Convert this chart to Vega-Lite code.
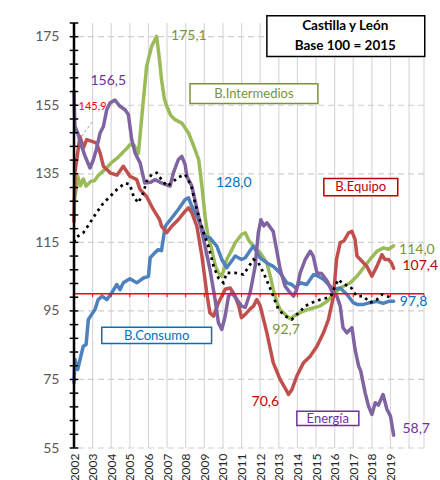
{
  "$schema": "https://vega.github.io/schema/vega-lite/v6.json",
  "width": 350,
  "height": 425,
  "autosize": "none",
  "padding": {"left": 74, "top": 23, "right": 16, "bottom": 32},
  "background": "white",
  "config": {"view": {"stroke": null}, "font": "Lato"},
  "datasets": {
    "series": [
      {"serie":"Intermedios","year":2002.0,"v":127},{"serie":"Intermedios","year":2002.1,"v":130},{"serie":"Intermedios","year":2002.2,"v":134.3},{"serie":"Intermedios","year":2002.35,"v":131.5},{"serie":"Intermedios","year":2002.5,"v":133.5},{"serie":"Intermedios","year":2002.65,"v":131.4},{"serie":"Intermedios","year":2002.9,"v":132.8},{"serie":"Intermedios","year":2003.1,"v":133},{"serie":"Intermedios","year":2003.3,"v":134.5},{"serie":"Intermedios","year":2003.5,"v":135.5},{"serie":"Intermedios","year":2003.8,"v":137},{"serie":"Intermedios","year":2004.0,"v":138.2},{"serie":"Intermedios","year":2004.3,"v":139.5},{"serie":"Intermedios","year":2004.6,"v":141.1},{"serie":"Intermedios","year":2004.85,"v":142.5},{"serie":"Intermedios","year":2005.0,"v":143.5},{"serie":"Intermedios","year":2005.2,"v":143.5},{"serie":"Intermedios","year":2005.46,"v":141},{"serie":"Intermedios","year":2005.7,"v":155},{"serie":"Intermedios","year":2005.9,"v":166.3},{"serie":"Intermedios","year":2006.17,"v":172.2},{"serie":"Intermedios","year":2006.44,"v":175.1},{"serie":"Intermedios","year":2006.6,"v":168},{"serie":"Intermedios","year":2006.7,"v":162.5},{"serie":"Intermedios","year":2006.85,"v":157},{"serie":"Intermedios","year":2006.98,"v":154.7},{"serie":"Intermedios","year":2007.2,"v":152},{"serie":"Intermedios","year":2007.43,"v":150.8},{"serie":"Intermedios","year":2007.79,"v":149.8},{"serie":"Intermedios","year":2008.15,"v":146.9},{"serie":"Intermedios","year":2008.4,"v":143.5},{"serie":"Intermedios","year":2008.7,"v":139.1},{"serie":"Intermedios","year":2008.87,"v":131.4},{"serie":"Intermedios","year":2009.04,"v":122.6},{"serie":"Intermedios","year":2009.2,"v":116.8},{"serie":"Intermedios","year":2009.4,"v":112.9},{"serie":"Intermedios","year":2009.6,"v":108},{"serie":"Intermedios","year":2009.76,"v":106.1},{"serie":"Intermedios","year":2009.94,"v":105.1},{"serie":"Intermedios","year":2010.2,"v":110},{"serie":"Intermedios","year":2010.45,"v":112.5},{"serie":"Intermedios","year":2010.66,"v":114.9},{"serie":"Intermedios","year":2011.0,"v":117.3},{"serie":"Intermedios","year":2011.2,"v":117.8},{"serie":"Intermedios","year":2011.4,"v":115.5},{"serie":"Intermedios","year":2011.64,"v":113.9},{"serie":"Intermedios","year":2012.0,"v":112},{"serie":"Intermedios","year":2012.36,"v":109},{"serie":"Intermedios","year":2012.55,"v":105},{"serie":"Intermedios","year":2012.7,"v":101.2},{"serie":"Intermedios","year":2012.9,"v":97.5},{"serie":"Intermedios","year":2013.07,"v":95.4},{"serie":"Intermedios","year":2013.43,"v":93.5},{"serie":"Intermedios","year":2013.6,"v":92.7},{"serie":"Intermedios","year":2013.97,"v":94},{"serie":"Intermedios","year":2014.3,"v":94.9},{"serie":"Intermedios","year":2014.6,"v":95.5},{"serie":"Intermedios","year":2014.87,"v":95.9},{"serie":"Intermedios","year":2015.2,"v":96.4},{"serie":"Intermedios","year":2015.6,"v":97.8},{"serie":"Intermedios","year":2015.94,"v":99.8},{"serie":"Intermedios","year":2016.3,"v":101.7},{"serie":"Intermedios","year":2016.84,"v":103.2},{"serie":"Intermedios","year":2017.2,"v":105.1},{"serie":"Intermedios","year":2017.55,"v":107.6},{"serie":"Intermedios","year":2017.9,"v":110},{"serie":"Intermedios","year":2018.27,"v":112.4},{"serie":"Intermedios","year":2018.63,"v":113.4},{"serie":"Intermedios","year":2018.9,"v":113.0},{"serie":"Intermedios","year":2019.17,"v":114.0},
      {"serie":"Consumo","year":2002.0,"v":74},{"serie":"Consumo","year":2002.05,"v":80.8},{"serie":"Consumo","year":2002.2,"v":77.9},{"serie":"Consumo","year":2002.35,"v":81.4},{"serie":"Consumo","year":2002.5,"v":84.7},{"serie":"Consumo","year":2002.65,"v":85.2},{"serie":"Consumo","year":2002.77,"v":92.5},{"serie":"Consumo","year":2002.95,"v":94},{"serie":"Consumo","year":2003.13,"v":95.4},{"serie":"Consumo","year":2003.3,"v":98.3},{"serie":"Consumo","year":2003.5,"v":99.3},{"serie":"Consumo","year":2003.76,"v":98.3},{"serie":"Consumo","year":2004.03,"v":100.3},{"serie":"Consumo","year":2004.3,"v":102.7},{"serie":"Consumo","year":2004.47,"v":101.2},{"serie":"Consumo","year":2004.65,"v":103.2},{"serie":"Consumo","year":2005.0,"v":104.4},{"serie":"Consumo","year":2005.37,"v":103.2},{"serie":"Consumo","year":2005.73,"v":104.6},{"serie":"Consumo","year":2006.0,"v":105.1},{"serie":"Consumo","year":2006.09,"v":110.5},{"serie":"Consumo","year":2006.35,"v":112},{"serie":"Consumo","year":2006.53,"v":112.9},{"serie":"Consumo","year":2006.7,"v":112.6},{"serie":"Consumo","year":2006.9,"v":119.7},{"serie":"Consumo","year":2007.25,"v":122.1},{"serie":"Consumo","year":2007.6,"v":124.6},{"serie":"Consumo","year":2007.97,"v":127.5},{"serie":"Consumo","year":2008.15,"v":128.0},{"serie":"Consumo","year":2008.33,"v":125.5},{"serie":"Consumo","year":2008.69,"v":121.6},{"serie":"Consumo","year":2009.04,"v":116.8},{"serie":"Consumo","year":2009.3,"v":116.3},{"serie":"Consumo","year":2009.67,"v":113.9},{"serie":"Consumo","year":2009.94,"v":110},{"serie":"Consumo","year":2010.2,"v":107.6},{"serie":"Consumo","year":2010.39,"v":109},{"serie":"Consumo","year":2010.66,"v":111},{"serie":"Consumo","year":2011.0,"v":110},{"serie":"Consumo","year":2011.2,"v":110.5},{"serie":"Consumo","year":2011.5,"v":112.9},{"serie":"Consumo","year":2011.64,"v":113.9},{"serie":"Consumo","year":2012.0,"v":110.5},{"serie":"Consumo","year":2012.36,"v":109},{"serie":"Consumo","year":2012.7,"v":108},{"serie":"Consumo","year":2013.07,"v":106.1},{"serie":"Consumo","year":2013.43,"v":103.2},{"serie":"Consumo","year":2013.7,"v":102.7},{"serie":"Consumo","year":2013.9,"v":101.7},{"serie":"Consumo","year":2014.15,"v":103.2},{"serie":"Consumo","year":2014.5,"v":102.7},{"serie":"Consumo","year":2014.87,"v":105.6},{"serie":"Consumo","year":2015.1,"v":105.2},{"serie":"Consumo","year":2015.4,"v":104.2},{"serie":"Consumo","year":2015.67,"v":102.7},{"serie":"Consumo","year":2015.94,"v":101.2},{"serie":"Consumo","year":2016.3,"v":101.7},{"serie":"Consumo","year":2016.66,"v":99.8},{"serie":"Consumo","year":2017.0,"v":97.4},{"serie":"Consumo","year":2017.2,"v":96.9},{"serie":"Consumo","year":2017.55,"v":96.9},{"serie":"Consumo","year":2017.9,"v":97.4},{"serie":"Consumo","year":2018.27,"v":97.8},{"serie":"Consumo","year":2018.6,"v":97.2},{"serie":"Consumo","year":2018.9,"v":97.8},{"serie":"Consumo","year":2019.17,"v":97.8},
      {"serie":"Equipo","year":2002.0,"v":121},{"serie":"Equipo","year":2002.05,"v":135.3},{"serie":"Equipo","year":2002.32,"v":145.9},{"serie":"Equipo","year":2002.5,"v":142.5},{"serie":"Equipo","year":2002.68,"v":145},{"serie":"Equipo","year":2003.2,"v":144},{"serie":"Equipo","year":2003.4,"v":141.1},{"serie":"Equipo","year":2003.58,"v":137.2},{"serie":"Equipo","year":2003.94,"v":135.3},{"serie":"Equipo","year":2004.3,"v":134.6},{"serie":"Equipo","year":2004.65,"v":137.2},{"serie":"Equipo","year":2005.0,"v":134.3},{"serie":"Equipo","year":2005.37,"v":133.3},{"serie":"Equipo","year":2005.55,"v":130.4},{"serie":"Equipo","year":2005.9,"v":128.4},{"serie":"Equipo","year":2006.26,"v":124.6},{"serie":"Equipo","year":2006.6,"v":121.6},{"serie":"Equipo","year":2006.7,"v":119.7},{"serie":"Equipo","year":2006.98,"v":117.8},{"serie":"Equipo","year":2007.25,"v":119.7},{"serie":"Equipo","year":2007.6,"v":121.6},{"serie":"Equipo","year":2007.97,"v":124.1},{"serie":"Equipo","year":2008.15,"v":125.1},{"serie":"Equipo","year":2008.33,"v":123.6},{"serie":"Equipo","year":2008.6,"v":119.7},{"serie":"Equipo","year":2008.87,"v":111},{"serie":"Equipo","year":2009.13,"v":100.3},{"serie":"Equipo","year":2009.3,"v":94.4},{"serie":"Equipo","year":2009.5,"v":93.5},{"serie":"Equipo","year":2009.76,"v":97.4},{"serie":"Equipo","year":2010.12,"v":101.3},{"serie":"Equipo","year":2010.39,"v":101.7},{"serie":"Equipo","year":2010.66,"v":99.3},{"serie":"Equipo","year":2010.85,"v":96.4},{"serie":"Equipo","year":2011.0,"v":93},{"serie":"Equipo","year":2011.2,"v":94},{"serie":"Equipo","year":2011.45,"v":95.5},{"serie":"Equipo","year":2011.64,"v":96.4},{"serie":"Equipo","year":2011.82,"v":98.3},{"serie":"Equipo","year":2012.0,"v":96.5},{"serie":"Equipo","year":2012.36,"v":88.6},{"serie":"Equipo","year":2012.7,"v":79.9},{"serie":"Equipo","year":2013.07,"v":75},{"serie":"Equipo","year":2013.43,"v":71.6},{"serie":"Equipo","year":2013.52,"v":70.6},{"serie":"Equipo","year":2013.7,"v":72},{"serie":"Equipo","year":2013.97,"v":76},{"serie":"Equipo","year":2014.33,"v":79.9},{"serie":"Equipo","year":2014.69,"v":81.8},{"serie":"Equipo","year":2015.05,"v":84.7},{"serie":"Equipo","year":2015.4,"v":88.6},{"serie":"Equipo","year":2015.67,"v":92.5},{"serie":"Equipo","year":2015.94,"v":99.3},{"serie":"Equipo","year":2016.1,"v":110},{"serie":"Equipo","year":2016.3,"v":114.9},{"serie":"Equipo","year":2016.5,"v":115.4},{"serie":"Equipo","year":2016.75,"v":117.8},{"serie":"Equipo","year":2016.93,"v":118.2},{"serie":"Equipo","year":2017.1,"v":115.8},{"serie":"Equipo","year":2017.2,"v":111},{"serie":"Equipo","year":2017.38,"v":110},{"serie":"Equipo","year":2017.73,"v":108},{"serie":"Equipo","year":2018.0,"v":105.1},{"serie":"Equipo","year":2018.27,"v":108},{"serie":"Equipo","year":2018.54,"v":111.4},{"serie":"Equipo","year":2018.7,"v":110},{"serie":"Equipo","year":2018.9,"v":110},{"serie":"Equipo","year":2019.05,"v":109},{"serie":"Equipo","year":2019.17,"v":107.4},
      {"serie":"Energía","year":2002.0,"v":159},{"serie":"Energía","year":2002.05,"v":148.8},{"serie":"Energía","year":2002.2,"v":146.9},{"serie":"Energía","year":2002.41,"v":143},{"serie":"Energía","year":2002.6,"v":140.1},{"serie":"Energía","year":2002.86,"v":136.7},{"serie":"Energía","year":2003.04,"v":139.1},{"serie":"Energía","year":2003.2,"v":142.1},{"serie":"Energía","year":2003.4,"v":146.9},{"serie":"Energía","year":2003.58,"v":148.8},{"serie":"Energía","year":2003.76,"v":153.7},{"serie":"Energía","year":2003.94,"v":155.7},{"serie":"Energía","year":2004.2,"v":156.5},{"serie":"Energía","year":2004.47,"v":154.7},{"serie":"Energía","year":2004.74,"v":153.7},{"serie":"Energía","year":2004.92,"v":152.3},{"serie":"Energía","year":2005.1,"v":145},{"serie":"Energía","year":2005.28,"v":141.1},{"serie":"Energía","year":2005.55,"v":138.2},{"serie":"Energía","year":2005.8,"v":132.3},{"serie":"Energía","year":2006.1,"v":132.5},{"serie":"Energía","year":2006.35,"v":133.3},{"serie":"Energía","year":2006.6,"v":132.6},{"serie":"Energía","year":2006.9,"v":131.9},{"serie":"Energía","year":2007.16,"v":131.4},{"serie":"Energía","year":2007.34,"v":135.3},{"serie":"Energía","year":2007.6,"v":139.1},{"serie":"Energía","year":2007.79,"v":140.1},{"serie":"Energía","year":2007.97,"v":137.7},{"serie":"Energía","year":2008.06,"v":134.3},{"serie":"Energía","year":2008.33,"v":131.4},{"serie":"Energía","year":2008.69,"v":122.6},{"serie":"Energía","year":2009.04,"v":113.9},{"serie":"Energía","year":2009.3,"v":107.2},{"serie":"Energía","year":2009.58,"v":98.3},{"serie":"Energía","year":2009.76,"v":91.5},{"serie":"Energía","year":2009.94,"v":89.6},{"serie":"Energía","year":2010.12,"v":93.5},{"serie":"Energía","year":2010.3,"v":99.3},{"serie":"Energía","year":2010.48,"v":100.3},{"serie":"Energía","year":2010.75,"v":98.3},{"serie":"Energía","year":2011.0,"v":96.4},{"serie":"Energía","year":2011.2,"v":96},{"serie":"Energía","year":2011.46,"v":100.3},{"serie":"Energía","year":2011.73,"v":108},{"serie":"Energía","year":2011.9,"v":117.8},{"serie":"Energía","year":2012.04,"v":121.6},{"serie":"Energía","year":2012.2,"v":119.8},{"serie":"Energía","year":2012.36,"v":120.7},{"serie":"Energía","year":2012.7,"v":118.2},{"serie":"Energía","year":2012.88,"v":112.9},{"serie":"Energía","year":2013.07,"v":107.2},{"serie":"Energía","year":2013.34,"v":102.2},{"serie":"Energía","year":2013.55,"v":100.7},{"serie":"Energía","year":2013.79,"v":99.3},{"serie":"Energía","year":2013.95,"v":101},{"serie":"Energía","year":2014.15,"v":106.1},{"serie":"Energía","year":2014.42,"v":110},{"serie":"Energía","year":2014.69,"v":112.4},{"serie":"Energía","year":2014.85,"v":111},{"serie":"Energía","year":2015.05,"v":106.1},{"serie":"Energía","year":2015.3,"v":105.9},{"serie":"Energía","year":2015.6,"v":103.7},{"serie":"Energía","year":2015.85,"v":100.7},{"serie":"Energía","year":2016.12,"v":99.3},{"serie":"Energía","year":2016.3,"v":96.4},{"serie":"Energía","year":2016.45,"v":90.1},{"serie":"Energía","year":2016.66,"v":88.6},{"serie":"Energía","year":2016.93,"v":90.1},{"serie":"Energía","year":2017.1,"v":83.7},{"serie":"Energía","year":2017.29,"v":78.9},{"serie":"Energía","year":2017.4,"v":77.5},{"serie":"Energía","year":2017.64,"v":71.1},{"serie":"Energía","year":2017.82,"v":67.2},{"serie":"Energía","year":2018.0,"v":64.8},{"serie":"Energía","year":2018.18,"v":68.2},{"serie":"Energía","year":2018.35,"v":67.5},{"serie":"Energía","year":2018.6,"v":70.6},{"serie":"Energía","year":2018.81,"v":66.3},{"serie":"Energía","year":2019.0,"v":64.3},{"serie":"Energía","year":2019.17,"v":58.7}
    ],
    "general": [
      {"year":2002.0,"v":115},{"year":2002.1,"v":116.4},{"year":2002.5,"v":117.8},{"year":2002.86,"v":120.7},{"year":2003.2,"v":123.6},{"year":2003.58,"v":126.5},{"year":2003.94,"v":128.4},{"year":2004.3,"v":130.4},{"year":2004.74,"v":132.3},{"year":2005.0,"v":131.9},{"year":2005.2,"v":128.4},{"year":2005.45,"v":126.5},{"year":2005.72,"v":129.4},{"year":2005.9,"v":132.8},{"year":2006.17,"v":134.8},{"year":2006.44,"v":135.3},{"year":2006.7,"v":133.3},{"year":2007.0,"v":131.4},{"year":2007.35,"v":132.8},{"year":2007.6,"v":134},{"year":2007.97,"v":134.8},{"year":2008.15,"v":133},{"year":2008.33,"v":130.9},{"year":2008.5,"v":126.5},{"year":2008.7,"v":122.6},{"year":2008.96,"v":117.8},{"year":2009.22,"v":113.9},{"year":2009.5,"v":108},{"year":2009.76,"v":104.6},{"year":2010.03,"v":103.2},{"year":2010.2,"v":106.1},{"year":2010.66,"v":106.1},{"year":2011.1,"v":105.6},{"year":2011.3,"v":107.2},{"year":2011.64,"v":110},{"year":2011.9,"v":109},{"year":2012.18,"v":106.1},{"year":2012.45,"v":102.7},{"year":2012.7,"v":99.3},{"year":2012.98,"v":95.4},{"year":2013.34,"v":93.5},{"year":2013.7,"v":92.5},{"year":2014.06,"v":94.4},{"year":2014.42,"v":96.4},{"year":2014.78,"v":97.4},{"year":2015.23,"v":98.3},{"year":2015.6,"v":98.8},{"year":2015.85,"v":99.8},{"year":2015.94,"v":101.2},{"year":2016.2,"v":104.2},{"year":2016.48,"v":102.7},{"year":2016.84,"v":102.2},{"year":2017.0,"v":100.7},{"year":2017.2,"v":99.3},{"year":2017.55,"v":99.3},{"year":2017.9,"v":97.4},{"year":2018.27,"v":98.3},{"year":2018.54,"v":99.8},{"year":2018.81,"v":99.3},{"year":2019.1,"v":98.8}
    ],
    "years": [
      {"year":2002},{"year":2003},{"year":2004},{"year":2005},{"year":2006},{"year":2007},{"year":2008},{"year":2009},{"year":2010},{"year":2011},{"year":2012},{"year":2013},{"year":2014},{"year":2015},{"year":2016},{"year":2017},{"year":2018},{"year":2019},{"year":2020},{"year":2020.8}
    ],
    "ygrid": [{"v":55},{"v":75},{"v":95},{"v":115},{"v":135},{"v":155},{"v":175}],
    "yticks": [{"v":55},{"v":59},{"v":63},{"v":67},{"v":71},{"v":75},{"v":79},{"v":83},{"v":87},{"v":91},{"v":95},{"v":99},{"v":103},{"v":107},{"v":111},{"v":115},{"v":119},{"v":123},{"v":127},{"v":131},{"v":135},{"v":139},{"v":143},{"v":147},{"v":151},{"v":155},{"v":159},{"v":163},{"v":167},{"v":171},{"v":175},{"v":179}],
    "yaxisLine": [{"year":2002,"lo":55,"hi":179}],
    "leader": [{"x1":2002.41,"y1":145.9,"x2":2003.0,"y2":150.3}],
    "smallLabel": [{"year":2003.0,"v":154.5,"label":"145,9"}],
    "titleBox": [{"x1":2012.36,"x2":2020.84,"y1":181.1,"y2":169.2}],
    "valueLabels": [
      {"serie":"Intermedios","year":2008.17,"v":175.1,"label":"175,1"},
      {"serie":"Energía","year":2003.84,"v":162.2,"label":"156,5"},
      {"serie":"Consumo","year":2010.58,"v":132.3,"label":"128,0"},
      {"serie":"Intermedios","year":2013.39,"v":89.4,"label":"92,7"},
      {"serie":"Equipo","year":2012.28,"v":68.5,"label":"70,6"}
    ],
    "endLabels": [
      {"serie":"Intermedios","year":2019.46,"v":112.9,"label":"114,0"},
      {"serie":"Equipo","year":2019.64,"v":108,"label":"107,4"},
      {"serie":"Consumo","year":2019.5,"v":97.5,"label":"97,8"},
      {"serie":"Energía","year":2019.64,"v":60.6,"label":"58,7"}
    ],
    "boxes": [
      {"serie":"Intermedios","label":"B.Intermedios","x1":2008.23,"x2":2015.1,"y1":161.3,"y2":155.5,"xm":2011.66,"ym":158.4},
      {"serie":"Equipo","label":"B.Equipo","x1":2015.42,"x2":2019.39,"y1":133.6,"y2":128.6,"xm":2017.4,"ym":131.1},
      {"serie":"Consumo","label":"B.Consumo","x1":2003.49,"x2":2009.39,"y1":90.2,"y2":85.5,"xm":2006.44,"ym":87.8},
      {"serie":"Energía","label":"Energía","x1":2013.97,"x2":2017.3,"y1":65.7,"y2":61.6,"xm":2015.63,"ym":63.6}
    ],
    "title": [
      {"label":"Castilla y León","year":2016.57,"v":178.0},
      {"label":"Base 100 = 2015","year":2016.57,"v":172.2}
    ]
  },
  "layer": [
    {
      "data": {"name": "years"},
      "mark": {"type": "rule", "color": "#d9d9d9", "strokeWidth": 1.2},
      "encoding": {
        "x": {
          "field": "year", "type": "quantitative",
          "scale": {"domain": [2002, 2020.8], "nice": false, "zero": false},
          "axis": {
            "title": null,
            "values": [2002,2003,2004,2005,2006,2007,2008,2009,2010,2011,2012,2013,2014,2015,2016,2017,2018,2019],
            "tickCount": 40, "tickMinStep": 0.1,
            "format": "d",
            "labelAngle": 270, "labelAlign": "right", "labelBaseline": "middle",
            "labelOverlap": false, "labelFlush": false,
            "labelFontSize": 12, "labelColor": "#262626", "labelPadding": 5, "labelFont": "Lato",
            "domain": false, "ticks": false, "grid": false
          }
        }
      }
    },
    {
      "data": {"name": "ygrid"},
      "mark": {"type": "rule", "color": "#cfcfcf", "strokeWidth": 1.2, "strokeDash": [6, 4]},
      "encoding": {
        "y": {
          "field": "v", "type": "quantitative",
          "scale": {"domain": [55, 179], "nice": false, "zero": false},
          "axis": {
            "title": null,
            "values": [55, 75, 95, 115, 135, 155, 175],
            "labelOverlap": false, "labelFlush": false,
            "labelFontSize": 14, "labelColor": "#595959", "labelPadding": 15, "labelFont": "Lato",
            "domain": false, "ticks": false, "grid": false
          }
        }
      }
    },
    {
      "data": {"name": "series"},
      "mark": {"type": "line", "strokeWidth": 3.5, "strokeJoin": "round", "strokeCap": "round"},
      "encoding": {
        "x": {"field": "year", "type": "quantitative"},
        "y": {"field": "v", "type": "quantitative"},
        "color": {
          "field": "serie", "type": "nominal",
          "scale": {"domain": ["Consumo", "Intermedios", "Equipo", "Energía"], "range": ["#4F81BD", "#9BBB59", "#C0504D", "#8064A2"]},
          "legend": null
        }
      }
    },
    {
      "data": {"name": "years"},
      "mark": {"type": "line", "color": "#FF0000", "strokeWidth": 1.5},
      "encoding": {
        "x": {"field": "year", "type": "quantitative"},
        "y": {"datum": 100}
      }
    },
    {
      "data": {"name": "years"},
      "mark": {"type": "rule", "color": "#FF0000", "strokeWidth": 1},
      "encoding": {
        "x": {"field": "year", "type": "quantitative"},
        "y": {"datum": 100},
        "y2": {"datum": 99}
      }
    },
    {
      "data": {"name": "general"},
      "mark": {"type": "line", "color": "#000000", "strokeWidth": 2.7, "strokeDash": [2.7, 4]},
      "encoding": {
        "x": {"field": "year", "type": "quantitative"},
        "y": {"field": "v", "type": "quantitative"}
      }
    },
    {
      "data": {"name": "yaxisLine"},
      "mark": {"type": "rule", "color": "#000000", "strokeWidth": 2.5},
      "encoding": {
        "x": {"field": "year", "type": "quantitative"},
        "y": {"field": "lo", "type": "quantitative"},
        "y2": {"field": "hi"}
      }
    },
    {
      "data": {"name": "yticks"},
      "mark": {"type": "rule", "color": "#000000", "strokeWidth": 1.5},
      "encoding": {
        "x": {"datum": 2001.77},
        "x2": {"datum": 2002.23},
        "y": {"field": "v", "type": "quantitative"}
      }
    },
    {
      "data": {"name": "leader"},
      "mark": {"type": "rule", "color": "#A6A6A6", "strokeWidth": 1, "strokeDash": [3, 2]},
      "encoding": {
        "x": {"field": "x1", "type": "quantitative"},
        "y": {"field": "y1", "type": "quantitative"},
        "x2": {"field": "x2"},
        "y2": {"field": "y2"}
      }
    },
    {
      "data": {"name": "smallLabel"},
      "mark": {"type": "text", "color": "#FF0000", "fontSize": 11, "font": "Lato", "align": "center", "baseline": "middle"},
      "encoding": {
        "x": {"field": "year", "type": "quantitative"},
        "y": {"field": "v", "type": "quantitative"},
        "text": {"field": "label"}
      }
    },
    {
      "data": {"name": "valueLabels"},
      "mark": {"type": "text", "fontSize": 14, "font": "Lato", "align": "center", "baseline": "middle"},
      "encoding": {
        "x": {"field": "year", "type": "quantitative"},
        "y": {"field": "v", "type": "quantitative"},
        "text": {"field": "label"},
        "fill": {
          "field": "serie", "type": "nominal",
          "scale": {"domain": ["Consumo", "Intermedios", "Equipo", "Energía"], "range": ["#0070C0", "#77933C", "#C00000", "#7030A0"]},
          "legend": null
        }
      }
    },
    {
      "data": {"name": "endLabels"},
      "mark": {"type": "text", "fontSize": 14, "font": "Lato", "align": "left", "baseline": "middle"},
      "encoding": {
        "x": {"field": "year", "type": "quantitative"},
        "y": {"field": "v", "type": "quantitative"},
        "text": {"field": "label"},
        "fill": {"field": "serie", "type": "nominal", "legend": null}
      }
    },
    {
      "data": {"name": "boxes"},
      "mark": {"type": "rect", "fill": "white", "strokeWidth": 1.5},
      "encoding": {
        "x": {"field": "x1", "type": "quantitative"},
        "x2": {"field": "x2"},
        "y": {"field": "y1", "type": "quantitative"},
        "y2": {"field": "y2"},
        "stroke": {
          "field": "serie", "type": "nominal",
          "scale": {"domain": ["Consumo", "Intermedios", "Equipo", "Energía"], "range": ["#0070C0", "#77933C", "#C00000", "#7030A0"]},
          "legend": null
        }
      }
    },
    {
      "data": {"name": "boxes"},
      "mark": {"type": "text", "fontSize": 13, "font": "Lato", "align": "center", "baseline": "middle"},
      "encoding": {
        "x": {"field": "xm", "type": "quantitative"},
        "y": {"field": "ym", "type": "quantitative"},
        "text": {"field": "label"},
        "fill": {"field": "serie", "type": "nominal", "legend": null}
      }
    },
    {
      "data": {"name": "titleBox"},
      "mark": {"type": "rect", "fill": "white", "stroke": "#000000", "strokeWidth": 1.5},
      "encoding": {
        "x": {"field": "x1", "type": "quantitative"},
        "x2": {"field": "x2"},
        "y": {"field": "y1", "type": "quantitative"},
        "y2": {"field": "y2"}
      }
    },
    {
      "data": {"name": "title"},
      "mark": {"type": "text", "fontSize": 13.5, "fontWeight": "bold", "font": "Lato", "align": "center", "baseline": "middle", "color": "#000000"},
      "encoding": {
        "x": {"field": "year", "type": "quantitative"},
        "y": {"field": "v", "type": "quantitative"},
        "text": {"field": "label"}
      }
    }
  ]
}
